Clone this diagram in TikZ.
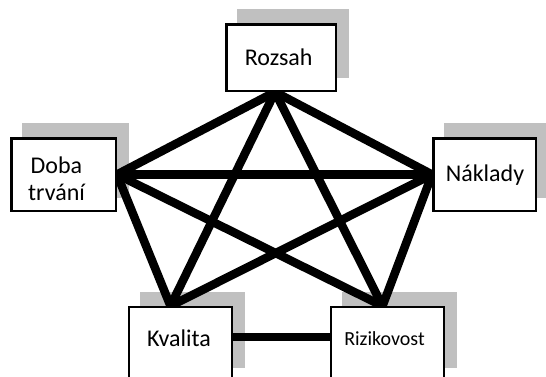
\documentclass[tikz,border=0pt]{standalone}
\usepackage{fontspec}
\setmainfont{Carlito}
\definecolor{shadowc}{RGB}{192,192,192}
\pgfdeclarelayer{shadowlayer}
\pgfdeclarelayer{linelayer}
\pgfsetlayers{shadowlayer,linelayer,main}
\begin{document}
\begin{tikzpicture}[x=1pt,y=-1pt,
  box/.style={draw=black,fill=white,line width=2.5pt,rectangle,inner sep=0pt},
  thinbox/.style={box,line width=2pt},
  conn/.style={draw=black,line width=8.5pt},
  lbl/.style={font=\fontsize{24}{27.5}\selectfont,inner sep=0pt,anchor=base},
  shade/.style={fill=shadowc}]
\useasboundingbox (0,0) rectangle (546,376);
\clip (0,0) rectangle (546,376);
% boxes
\node[box,minimum width=109.5,minimum height=66.5] (R) at (281,57.5) {};
\node[box,minimum width=104.5,minimum height=72.5] (D) at (63.5,174.5) {};
\node[box,minimum width=102.5,minimum height=72.5] (N) at (484.5,174.5) {};
\node[thinbox,minimum width=103,minimum height=74] (K) at (180.5,344) {};
\node[thinbox,minimum width=113,minimum height=74] (Z) at (387.5,344) {};
% labels
\node[lbl] (tR) at (278.7,65.7) {Rozsah};
\node[lbl,align=center] (tD) at (56.5,200.7) {Doba\\trvání};
\node[lbl] (tN) at (485,181) {Náklady};
\node[lbl] (tK) at (179,346.7) {Kvalita};
\node[lbl,font=\fontsize{20}{23}\selectfont] (tZ) at (384.5,345) {Rizikovost};
% connection points
\coordinate (rP) at ([xshift=-6pt]R.south);
\coordinate (dP) at (D.east);
\coordinate (nP) at (N.west);
\coordinate (kP) at ([xshift=-10pt]K.north);
\coordinate (zP) at ([xshift=-5pt]Z.north);
\coordinate (kE) at (K.east |- 0,337);
\coordinate (zW) at (Z.west |- 0,337);
% shadows
\begin{pgfonlayer}{shadowlayer}
\foreach \b in {R,D,N,K,Z}{
  \fill[shade] ([shift={(12,-14)}]\b.south west) rectangle ([shift={(12,-14)}]\b.north east);
}
\end{pgfonlayer}
% connectors
\begin{pgfonlayer}{linelayer}
\draw[conn] (rP) -- (dP);
\draw[conn] (rP) -- (nP);
\draw[conn] (rP) -- (kP);
\draw[conn] (rP) -- (zP);
\draw[conn] (dP) -- (nP);
\draw[conn] (dP) -- (kP);
\draw[conn] (dP) -- (zP);
\draw[conn] (nP) -- (kP);
\draw[conn] (nP) -- (zP);
\draw[conn] (kE) -- (zW);
\end{pgfonlayer}
\end{tikzpicture}
\end{document}
